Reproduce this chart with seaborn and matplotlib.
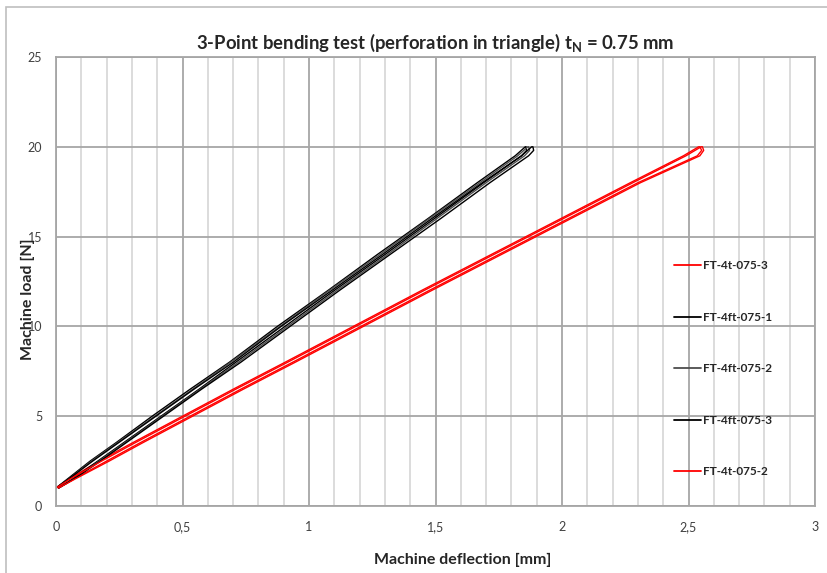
import matplotlib
matplotlib.use("Agg")
import matplotlib.pyplot as plt
import seaborn as sns
import pandas as pd
from matplotlib.patches import Rectangle
from matplotlib.lines import Line2D
from matplotlib.ticker import MultipleLocator, FixedLocator, FixedFormatter

# ---------------- data ----------------
series_names = ["FT-4t-075-3", "FT-4ft-075-1", "FT-4ft-075-2", "FT-4ft-075-3", "FT-4t-075-2"]
series_colors = ["#ff0000", "#000000", "#4d4d4d", "#000000", "#ff0000"]

load_y = [1.0, 1.5, 2.5, 3.5, 5.0, 6.5, 8.0, 10.0, 12.0, 14.0, 16.0, 18.0, 19.5, 20.0]
unload_y = [20.0, 19.8, 19.5, 18.0, 16.0, 14.0, 12.0, 10.0, 8.0, 6.5, 5.0, 3.5, 2.5, 1.5, 1.0]

# deflection [mm] while loading / unloading
t3_load = [0.00, 0.05, 0.17, 0.30, 0.50, 0.70, 0.905, 1.175, 1.445, 1.72, 1.995, 2.27, 2.48, 2.54]
t3_unload = [2.545, 2.552, 2.535, 2.30, 2.025, 1.75, 1.475, 1.205, 0.935, 0.73, 0.53, 0.33, 0.20, 0.07, 0.01]
t2_load = [0.00, 0.055, 0.18, 0.31, 0.51, 0.71, 0.915, 1.185, 1.455, 1.73, 2.005, 2.28, 2.49, 2.55]
t2_unload = [2.555, 2.56, 2.545, 2.31, 2.035, 1.76, 1.485, 1.215, 0.945, 0.74, 0.54, 0.34, 0.21, 0.075, 0.01]

f1_load = [0.00, 0.045, 0.135, 0.235, 0.38, 0.53, 0.685, 0.875, 1.075, 1.27, 1.47, 1.665, 1.815, 1.855]
f1_unload = [1.858, 1.86, 1.84, 1.69, 1.495, 1.30, 1.10, 0.905, 0.71, 0.565, 0.415, 0.265, 0.165, 0.065, 0.01]
f2_load = [0.00, 0.05, 0.14, 0.24, 0.39, 0.54, 0.69, 0.885, 1.08, 1.28, 1.475, 1.675, 1.825, 1.865]
f2_unload = [1.868, 1.872, 1.852, 1.70, 1.505, 1.31, 1.11, 0.915, 0.72, 0.57, 0.42, 0.27, 0.17, 0.07, 0.01]
f3_load = [0.00, 0.05, 0.145, 0.245, 0.395, 0.545, 0.70, 0.89, 1.09, 1.29, 1.485, 1.685, 1.84, 1.88]
f3_unload = [1.885, 1.888, 1.868, 1.715, 1.52, 1.32, 1.12, 0.925, 0.73, 0.575, 0.425, 0.275, 0.175, 0.07, 0.01]

loads = {"FT-4t-075-3": t3_load, "FT-4ft-075-1": f1_load, "FT-4ft-075-2": f2_load,
         "FT-4ft-075-3": f3_load, "FT-4t-075-2": t2_load}
unloads = {"FT-4t-075-3": t3_unload, "FT-4ft-075-1": f1_unload, "FT-4ft-075-2": f2_unload,
           "FT-4ft-075-3": f3_unload, "FT-4t-075-2": t2_unload}

x_ticks = [0, 0.5, 1, 1.5, 2, 2.5, 3]
x_tick_labels = ["0", "0,5", "1", "1,5", "2", "2,5", "3"]
y_ticks = [0, 5, 10, 15, 20, 25]
y_tick_labels = ["0", "5", "10", "15", "20", "25"]

rows = []
for name in series_names:
    i = 0
    for x, y in zip(loads[name], load_y):
        rows.append((name, i, x, y)); i += 1
    for x, y in zip(unloads[name], unload_y):
        rows.append((name, i, x, y)); i += 1
df = pd.DataFrame(rows, columns=["series", "order", "x", "y"])

# ---------------- plot ----------------
sns.set_theme(style="white")
plt.rcParams["font.family"] = ["Lato", "DejaVu Sans"]

fig = plt.figure(figsize=(8.27, 5.73), dpi=100)
ax = fig.add_axes([56 / 827, 1 - 506 / 573, (815 - 56) / 827, (506 - 57) / 573])

ax.set_xlim(0, 3)
ax.set_ylim(0, 25)

ax.xaxis.set_minor_locator(MultipleLocator(0.1))
ax.grid(True, which="minor", axis="x", color="#d9d9d9", lw=1.3, zorder=0)
ax.grid(True, which="major", axis="both", color="#a6a6a6", lw=1.3, zorder=0)
ax.set_axisbelow(True)

sns.lineplot(data=df, x="x", y="y", hue="series", hue_order=series_names,
             palette=dict(zip(series_names, series_colors)), sort=False,
             estimator=None, units="series", lw=1.0, ax=ax, legend=False)

ax.xaxis.set_major_locator(FixedLocator(x_ticks))
ax.xaxis.set_major_formatter(FixedFormatter(x_tick_labels))
ax.yaxis.set_major_locator(FixedLocator(y_ticks))
ax.yaxis.set_major_formatter(FixedFormatter(y_tick_labels))
ax.tick_params(axis="both", which="major", length=3, width=1.2, color="#a6a6a6",
               labelsize=9, labelcolor="#404040", direction="out")
ax.tick_params(axis="x", which="minor", length=0)
ax.tick_params(axis="x", pad=8)
ax.tick_params(axis="y", pad=7)

for s in ax.spines.values():
    s.set_color("#a6a6a6")
    s.set_linewidth(1.3)

ax.set_xlabel("Machine deflection [mm]", fontsize=11.5, fontweight="bold", color="#262626")
ax.xaxis.set_label_coords(0.536, -0.105)
ax.set_ylabel("Machine load [N]", fontsize=11.5, fontweight="bold", color="#262626")
ax.yaxis.set_label_coords(-0.0277, 0.461)
ax.set_title(r"3-Point bending test (perforation in triangle) t$_\mathregular{N}$ = 0.75 mm",
             fontsize=13.3, fontweight="bold", color="#262626", pad=6)

# legend
handles = [Line2D([], [], color=c, lw=1.3) for c in series_colors]
leg = ax.legend(handles, series_names, loc="upper left", bbox_to_anchor=(0.808, 0.558),
                frameon=False, fontsize=8.5, handlelength=2.3, handletextpad=0.15,
                labelspacing=3.43, borderaxespad=0)
for t in leg.get_texts():
    t.set_fontweight("bold")
    t.set_color("#262626")

# outer chart border
fig.add_artist(Rectangle((6 / 827, -0.1), 1.2, 1 - 7 / 573 + 0.1, transform=fig.transFigure,
                         fill=False, edgecolor="#bfbfbf", lw=1.2))

fig.savefig("out.png", dpi=100)
